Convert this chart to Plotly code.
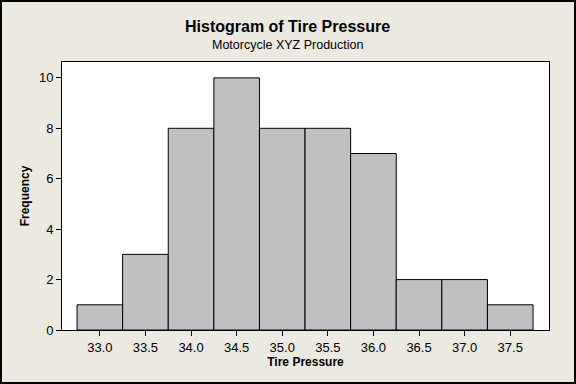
import plotly.graph_objects as go

pressure = [33.0, 33.5, 34.0, 34.5, 35.0, 35.5, 36.0, 36.5, 37.0, 37.5]
frequency = [1, 3, 8, 10, 8, 8, 7, 2, 2, 1]
x_ticks = [33.0, 33.5, 34.0, 34.5, 35.0, 35.5, 36.0, 36.5, 37.0, 37.5]
y_ticks = [0, 2, 4, 6, 8, 10]

W, H = 576, 384
L, R, T, B = 62, 27, 62, 54
pw, ph = W - L - R, H - T - B

font = "Liberation Sans"
bg = "#ece9e1"


def py(pix):
    """pixel row -> paper y"""
    return (T + ph - pix) / ph


def px(pix):
    return (pix - L) / pw


fig = go.Figure(go.Bar(
    x=pressure, y=frequency, width=0.5,
    marker=dict(color="#c0c0c0", line=dict(color="black", width=1)),
    hoverinfo="x+y",
))

fig.update_layout(
    width=W, height=H,
    margin=dict(l=L, r=R, t=T, b=B),
    paper_bgcolor=bg, plot_bgcolor="white",
    showlegend=False,
    font=dict(family=font, color="black", size=13),
    xaxis=dict(
        range=[32.585, 37.925],
        tickvals=x_ticks, tickformat=".1f",
        ticks="outside", ticklen=5, tickcolor="black",
        showline=True, linecolor="black", linewidth=1, mirror=True,
        showgrid=False, zeroline=False,
        title=dict(text="<b>Tire Pressure</b>", font=dict(size=12), standoff=3),
    ),
    yaxis=dict(
        range=[0, 10.63],
        tickvals=y_ticks,
        ticks="outside", ticklen=5, tickcolor="black",
        showline=True, linecolor="black", linewidth=1, mirror=True,
        showgrid=False, zeroline=False,
        title=dict(text="<b>Frequency</b>", font=dict(size=12), standoff=6),
    ),
    annotations=[
        dict(text="<b>Histogram of Tire Pressure</b>", xref="paper", yref="paper",
             x=px(287), y=py(27), xanchor="center", yanchor="middle",
             showarrow=False, font=dict(size=16)),
        dict(text="Motorcycle XYZ Production", xref="paper", yref="paper",
             x=px(287), y=py(45), xanchor="center", yanchor="middle",
             showarrow=False, font=dict(size=12.5)),
    ],
    shapes=[dict(
        type="rect", xref="paper", yref="paper",
        x0=px(1), x1=px(W - 1),
        y0=py(H - 1), y1=py(1),
        line=dict(color="black", width=2), fillcolor="rgba(0,0,0,0)",
        layer="above",
    )],
)

fig.write_html(
    "out.html",
    config={"displayModeBar": False},
    post_script="document.body.style.margin='0';document.body.style.padding='0';",
)
